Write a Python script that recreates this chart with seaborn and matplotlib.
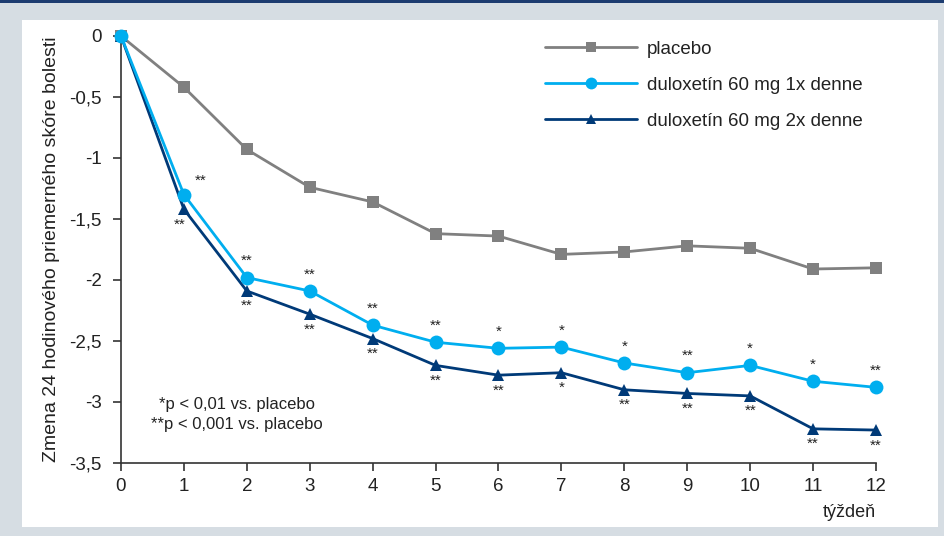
import matplotlib
matplotlib.use("Agg")
import matplotlib.pyplot as plt
import matplotlib.patches as mpatches
from matplotlib.lines import Line2D
import seaborn as sns
import pandas as pd

# data
weeks = [0, 1, 2, 3, 4, 5, 6, 7, 8, 9, 10, 11, 12]
placebo = [0, -0.42, -0.93, -1.24, -1.36, -1.62, -1.64, -1.79, -1.77, -1.72, -1.74, -1.91, -1.90]
dulox_1x = [0, -1.30, -1.98, -2.09, -2.37, -2.51, -2.56, -2.55, -2.68, -2.76, -2.70, -2.83, -2.88]
dulox_2x = [0, -1.42, -2.09, -2.28, -2.48, -2.70, -2.78, -2.76, -2.90, -2.93, -2.95, -3.22, -3.23]
stars_1x = ["", "**", "**", "**", "**", "**", "*", "*", "*", "**", "*", "*", "**"]
stars_2x = ["", "**", "**", "**", "**", "**", "**", "*", "**", "**", "**", "**", "**"]
labels = ["placebo", "duloxetín 60 mg 1x denne", "duloxetín 60 mg 2x denne"]
yticks = [0, -0.5, -1, -1.5, -2, -2.5, -3, -3.5]

colors = ["#808080", "#00aeef", "#003a78"]
markers = ["s", "o", "^"]
msizes = [9, 10, 9]
zorders = [3, 5, 4]

sns.set_style("white")
plt.rcParams["font.family"] = ["Liberation Sans Narrow", "Liberation Sans", "DejaVu Sans"]

fig = plt.figure(figsize=(9.45, 5.36), dpi=100, facecolor="#d6dde3")
# white panel and dark top strip
fig.patches.append(mpatches.Rectangle((22 / 945, 1 - 527 / 536), 916 / 945, 507 / 536,
                                      transform=fig.transFigure, facecolor="white",
                                      edgecolor="none", zorder=-10))
fig.patches.append(mpatches.Rectangle((0, 1 - 3 / 536), 1, 3 / 536,
                                      transform=fig.transFigure, facecolor="#1d3c70",
                                      edgecolor="none", zorder=-10))

ax = fig.add_axes([121 / 945, 1 - 463 / 536, 755 / 945, 427 / 536])
ax.set_facecolor("none")

df = pd.DataFrame({"week": weeks * 3,
                   "value": placebo + dulox_1x + dulox_2x,
                   "group": [labels[0]] * 13 + [labels[1]] * 13 + [labels[2]] * 13})

for i, lab in enumerate(labels):
    sub = df[df["group"] == lab]
    sns.lineplot(data=sub, x="week", y="value", ax=ax, color=colors[i],
                 marker=markers[i], markersize=msizes[i], markeredgewidth=0,
                 linewidth=2.0, clip_on=False, zorder=zorders[i], legend=False)

# significance stars
for i, w in enumerate(weeks):
    if stars_1x[i]:
        dx, dy = (12, 10) if w == 1 else (0, 12)
        ax.annotate(stars_1x[i], (w, dulox_1x[i]), xytext=(dx, dy), textcoords="offset points",
                    ha="center", va="center", fontsize=11, color="#222222")
    if stars_2x[i]:
        dx = -3 if w == 1 else 0
        ax.annotate(stars_2x[i], (w, dulox_2x[i]), xytext=(dx, -11), textcoords="offset points",
                    ha="center", va="center", fontsize=11, color="#222222")

ax.text(1.84, -3.02, "*p < 0,01 vs. placebo", ha="center", va="center", fontsize=12, color="#222222")
ax.text(1.84, -3.185, "**p < 0,001 vs. placebo", ha="center", va="center", fontsize=12, color="#222222")

ax.set_xlim(0, 12)
ax.set_ylim(-3.5, 0)
ax.set_xticks(weeks)
ax.set_yticks(yticks)
ax.set_yticklabels([("%g" % v).replace(".", ",") for v in yticks])
ax.tick_params(axis="both", direction="out", length=6, width=1.2, color="#333333",
               labelsize=13.5, labelcolor="#222222", pad=5, bottom=True, left=True)
ax.tick_params(axis="y", pad=8)
for s in ["top", "right"]:
    ax.spines[s].set_visible(False)
for s in ["left", "bottom"]:
    ax.spines[s].set_color("#333333")
    ax.spines[s].set_linewidth(1.2)

ax.set_ylabel("Zmena 24 hodinového priemerného skóre bolesti", fontsize=14, color="#222222")
ax.yaxis.set_label_coords(-0.081, 0.5)
ax.set_xlabel("týždeň", fontsize=13, color="#222222", ha="right")
ax.xaxis.set_label_coords(1.0, -0.095)

handles = [Line2D([0], [0], color=colors[i], marker=markers[i], markersize=msizes[i],
                  markeredgewidth=0, linewidth=2.0) for i in range(3)]
ax.legend(handles, labels, loc="upper left", bbox_to_anchor=(528 / 945, 1 - 24 / 536),
          bbox_transform=fig.transFigure, frameon=False, fontsize=13.5, handlelength=4.9,
          handletextpad=0.55, labelspacing=1.0, markerscale=0.85, labelcolor="#222222")

fig.savefig("out.png", dpi=100, facecolor=fig.get_facecolor())
